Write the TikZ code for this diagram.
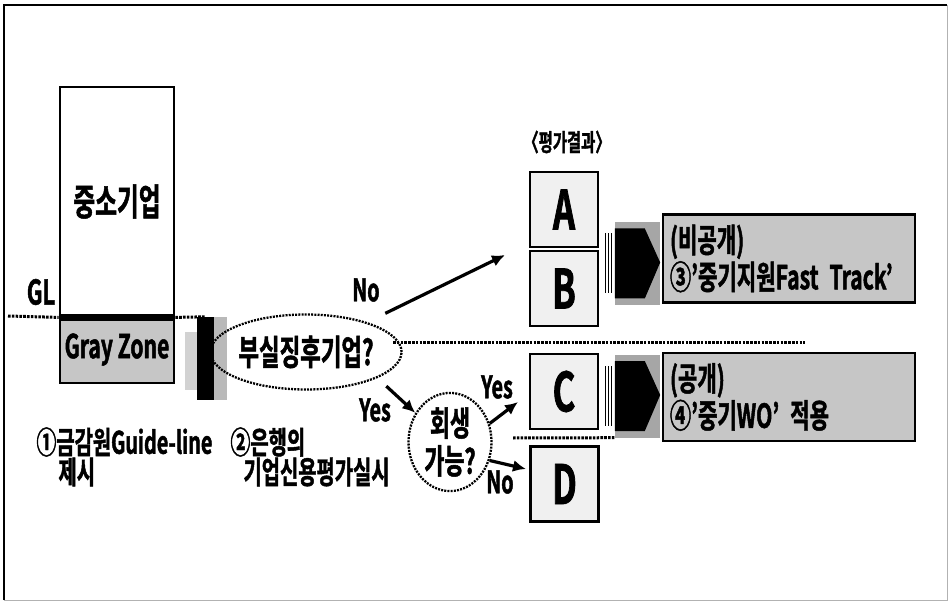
\documentclass[tikz,border=0pt]{standalone}
\usepackage{fontspec}
\setmainfont{Noto Sans CJK KR}[BoldFont={Noto Sans CJK KR Bold},
  BoldFeatures={FakeBold=1.4}, FakeStretch=0.64]
\usetikzlibrary{arrows.meta, positioning, shapes.geometric, calc}

\begin{document}
\begin{tikzpicture}[x=1pt, y=-1pt,
   every node/.style={font=\bfseries},
   box/.style={draw, line width=2.8pt, inner sep=0pt},
   grade/.style={box, fill=gray!12, minimum width=68pt, minimum height=75pt,
                 font=\bfseries\fontsize{54}{54}\selectfont},
   result/.style={box, fill=gray!45, minimum width=252pt, minimum height=88pt,
                  text width=238pt, align=left, font=\bfseries\fontsize{33}{37}\selectfont},
   ask/.style={ellipse, draw, dash pattern=on 2pt off 1.2pt, line width=2.3pt, inner sep=0pt},
   dotline/.style={dash pattern=on 2.6pt off 1.2pt, line width=3pt},
   flow/.style={line width=3.2pt, -{Latex[length=13pt, width=12pt]}},
   lbl/.style={font=\bfseries\fontsize{31}{31}\selectfont},
   note/.style={anchor=west, font=\bfseries\fontsize{31}{31}\selectfont}]
  \useasboundingbox (0,0) rectangle (951,604);
  % frame
  \draw[gray!60, line width=0.6pt] (947,5) -- (947,600) -- (4,600);
  \draw[line width=1.2pt] (4,600) -- (4,5) -- (947,5);

  % left column
  \node[box, minimum width=114pt, minimum height=229pt,
        font=\bfseries\fontsize{37}{37}\selectfont] (sme) at (117,201.5) {중소기업};
  \node[box, fill=gray!45, minimum width=114pt, minimum height=67pt,
        font=\bfseries\fontsize{33}{33}\selectfont] (gray) at (117,349.5) {Gray Zone};
  \draw[line width=7pt] (sme.south west) -- (sme.south east);
  \node[font=\bfseries\fontsize{34}{34}\selectfont] (gl) at (41,292) {GL};
  \coordinate (glstart) at (8,316);

  % fat arrow after the column
  \node[fill=black, minimum width=17pt, minimum height=83pt, inner sep=0pt] (fat1) at (205.5,358.5) {};
  \fill[gray!55] (fat1.north east) rectangle ++(13,83);
  \fill[gray!35] (185,332) rectangle (197,390);

  \draw[dotline] (glstart) -- (sme.south west);
  \draw[dotline] (sme.south east) -- (fat1.north);

  % questions
  \node[ask, minimum width=148pt, minimum height=75pt,
        font=\bfseries\fontsize{35}{35}\selectfont] (busil) at (306,352) {부실징후기업?};
  \node[ask, minimum width=83pt, minimum height=97pt, align=center,
        font=\bfseries\fontsize{34}{38}\selectfont] (revive) at (450,442) {회생\\가능?};

  % grades
  \node[font=\bfseries\fontsize{24}{24}\selectfont] (head) at (567,142) {〈평가결과〉};
  \node[grade] (A) at (564,209.5) {A};
  \node[grade] (B) at (564,288.5) {B};
  \node[grade] (C) at (564,391.5) {C};
  \node[grade] (D) at (564.5,484) {D};

  % fat arrows to the results
  \foreach \f/\y in {fat2/263.5, fat3/396}{
    \node[fill=gray!70, minimum width=45pt, minimum height=83pt, inner sep=0pt] (\f) at (637.5,\y) {};
    \fill ($(\f.west)+(0,-35)$) -- ++(30,0) -- ($(\f.east)+(0,-1)$) -- ($(\f.west)+(30,35)$) -- ++(-30,0) -- cycle;
    \foreach \x in {605,608,611}
      \draw[line width=1pt] (\x,\y-30) -- (\x,\y+30);
  }

  % results
  \node[result] (fast) at (789,258.5) {(비공개)\\③'중기지원Fast Track'};
  \node[result] (wo) at (789,397) {(공개)\\④'중기WO' 적용};

  % connectors
  \coordinate (noend) at (505,255);
  \coordinate (yesend) at (518,402);
  \coordinate (noend2) at (526,469);
  \draw[flow, shorten <=20pt] (busil) -- (noend);
  \draw[flow, shorten <=12pt] (busil.-20) -- (revive.140);
  \draw[flow] (revive.25) -- (yesend);
  \draw[flow] (revive.-25) -- (noend2);
  \node[lbl] (no1) at (366,290) {No};
  \node[lbl] (yes1) at (375,410) {Yes};
  \node[lbl] (yes2) at (497,387) {Yes};
  \node[lbl] (no2) at (500,482) {No};

  % dotted dividers
  \coordinate (divstart) at (393,342);
  \coordinate (divend) at (805,342);
  \coordinate (cdstart) at (513,438);
  \draw[dotline] (divstart) -- (divend);
  \draw[dotline] (cdstart) -- (fat3.south west);

  % notes
  \node[note] (n1) at (33,442) {①금감원Guide-line};
  \node[note] (n1b) at (55,472) {제시};
  \node[note] (n2) at (227,442) {②은행의};
  \node[note] (n2b) at (240,472) {기업신용평가실시};
\end{tikzpicture}
\end{document}
